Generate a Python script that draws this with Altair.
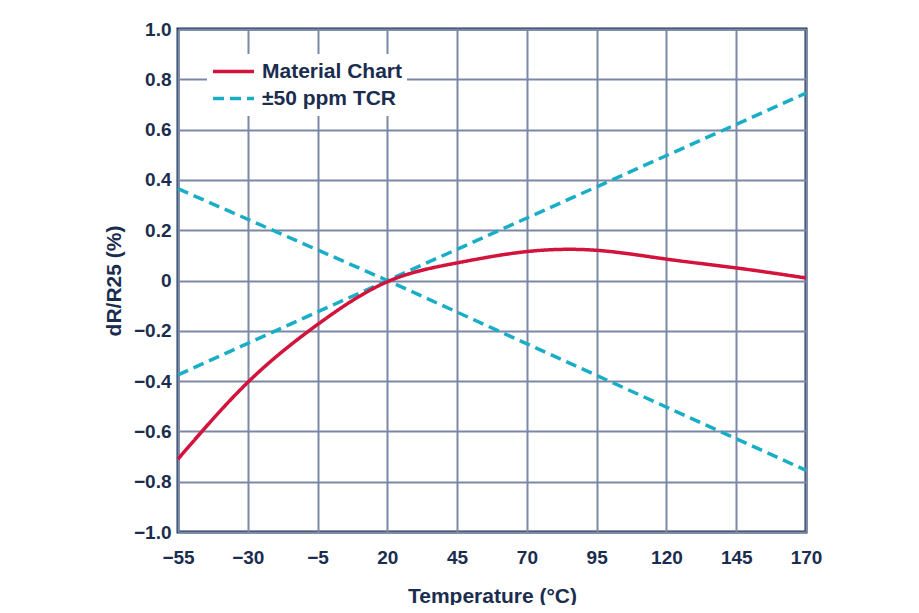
import altair as alt
import pandas as pd

# --- data ---
mat_temp = [-55, -30, -5, 20, 45, 70, 95, 120, 145, 170]
mat_val = [-0.71, -0.405, -0.175, -0.005, 0.07, 0.115, 0.12, 0.085, 0.05, 0.01]

tcr_temp = [-55, 20, 170]
tcr_up = [-0.375, 0.0, 0.745]
tcr_down = [0.365, 0.0, -0.755]

series_names = ["Material Chart", "±50 ppm TCR"]
x_ticks = [-55, -30, -5, 20, 45, 70, 95, 120, 145, 170]
y_ticks = [-1.0, -0.8, -0.6, -0.4, -0.2, 0.0, 0.2, 0.4, 0.6, 0.8, 1.0]

mat_df = pd.DataFrame({"temp": mat_temp, "val": mat_val,
                       "series": series_names[0], "line": "mat"})
up_df = pd.DataFrame({"temp": tcr_temp, "val": tcr_up,
                      "series": series_names[1], "line": "up"})
down_df = pd.DataFrame({"temp": tcr_temp, "val": tcr_down,
                        "series": series_names[1], "line": "down"})
df = pd.concat([mat_df, up_df, down_df], ignore_index=True)

NAVY = "#1b2d4f"
FONT = "Liberation Sans"

x_enc = alt.X("temp:Q",
              scale=alt.Scale(domain=[-55, 170], nice=False, zero=False),
              axis=alt.Axis(values=x_ticks, title="Temperature (°C)",
                            labelExpr="replace(datum.label, '-', '–')",
                            labelFlush=False, labelOverlap=False,
                            labelPadding=16, titlePadding=18))
y_enc = alt.Y("val:Q",
              scale=alt.Scale(domain=[-1, 1], nice=False),
              axis=alt.Axis(values=y_ticks, title="dR/R25 (%)",
                            labelExpr="abs(datum.value) < 0.001 ? '0' : replace(format(datum.value, '.1f'), '-', '–')",
                            labelPadding=7, titlePadding=9))
color_enc = alt.Color("series:N",
                      scale=alt.Scale(domain=series_names, range=["#d2143c", "#1aaec6"]),
                      legend=alt.Legend(title=None))
dash_enc = alt.StrokeDash("series:N",
                          scale=alt.Scale(domain=series_names, range=[[1, 0], [11, 6]]),
                          legend=alt.Legend(title=None))

base = alt.Chart(df).encode(x=x_enc, y=y_enc, color=color_enc, strokeDash=dash_enc,
                            detail="line:N")

mat_line = base.transform_filter(alt.datum.line == "mat").mark_line(
    strokeWidth=3.5, interpolate="natural")
tcr_lines = base.transform_filter(alt.datum.line != "mat").mark_line(
    strokeWidth=3.5)

chart = alt.layer(tcr_lines, mat_line).properties(
    width=628, height=503,
    autosize=alt.AutoSizeParams(type="none"),
    padding={"left": 170, "top": 21, "right": 105, "bottom": 73},
).configure_view(
    stroke="#15305a", strokeWidth=3, fill="white"
).configure_axis(
    grid=True, gridColor="#7b87a5", gridWidth=2, gridOpacity=1,
    domain=False, ticks=False,
    labelFont=FONT, labelFontWeight="bold", labelFontSize=19, labelColor=NAVY,
    titleFont=FONT, titleFontWeight="bold", titleFontSize=21, titleColor=NAVY,
).configure_legend(
    orient="none", legendX=29, legendY=25,
    fillColor="white", padding=4,
    symbolType="stroke", symbolSize=1681, symbolStrokeWidth=3.5,
    labelFont=FONT, labelFontWeight="bold", labelFontSize=21, labelColor=NAVY,
    labelOffset=6, rowPadding=0, clipHeight=27,
)

chart.save("out.html", embed_options={"renderer": "svg", "actions": False})
